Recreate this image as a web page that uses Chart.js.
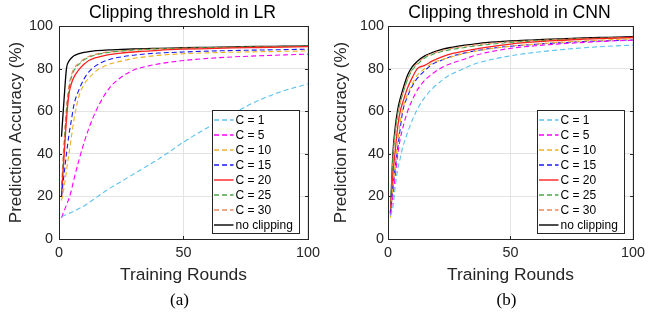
<!DOCTYPE html>
<html>
<head>
<meta charset="utf-8">
<script src="https://cdn.jsdelivr.net/npm/chart.js@4.4.1/dist/chart.umd.min.js"></script>
<style>
  html, body { margin: 0; padding: 0; background: #fff; }
  #wrap { position: relative; width: 650px; height: 320px; }
  canvas { position: absolute; top: 0; }
  #chart_lr { left: 0; }
  #chart_cnn { left: 325px; }
</style>
</head>
<body>
<div id="wrap">
  <canvas id="chart_lr" width="325" height="320"></canvas>
  <canvas id="chart_cnn" width="325" height="320"></canvas>
</div>
<script>
// ===== data =====
const series_labels = ["C = 1", "C = 5", "C = 10", "C = 15", "C = 20", "C = 25", "C = 30", "no clipping"];
const series_colors = ["#5cc3ee", "#ff00ff", "#edb120", "#1a1aff", "#ff2020", "#4aa64a", "#f0865a", "#000000"];
const series_dashed = [true, true, true, true, false, true, true, false];

const x_ticks = [0, 50, 100];
const y_ticks = [0, 20, 40, 60, 80, 100];

// LR
const rounds_lr = [1, 2, 3, 4, 5, 6, 8, 10, 12, 15, 20, 25, 30, 35, 40, 50, 60, 70, 80, 90, 100];
const lr_c1  = [10.5, 11, 11.5, 12, 12.5, 13, 14.3, 15.5, 17, 19.5, 23.5, 27, 30.5, 34, 37.5, 45.5, 52.5, 59, 65, 69.5, 72.8];
const lr_c5  = [10, 13, 16, 19, 23, 28, 37, 45, 52, 60.5, 70.5, 76, 79.3, 81, 82.2, 83.8, 84.8, 85.5, 86, 86.4, 86.8];
const lr_c10 = [18, 24, 32, 40, 48, 56, 67, 72.5, 75.5, 79, 82, 83.5, 84.8, 85.6, 86.2, 87, 87.4, 87.7, 87.9, 88.1, 88.3];
const lr_c15 = [20, 30, 40, 49, 56, 63, 70, 75, 78.5, 81.5, 84.2, 85.5, 86.3, 86.9, 87.3, 87.8, 88.2, 88.5, 88.7, 88.9, 89.1];
const lr_c20 = [20, 38, 56, 68, 73, 76, 79.5, 82, 83.8, 85.2, 86.6, 87.3, 87.8, 88.2, 88.6, 89.1, 89.4, 89.7, 89.9, 90.1, 90.3];
const lr_c25 = [22, 42, 60, 70, 76, 79, 82, 84, 85.3, 86.5, 87.6, 88.2, 88.7, 89, 89.2, 89.5, 89.8, 90, 90.2, 90.4, 90.6];
const lr_c30 = [25, 45, 62, 72, 77, 80, 82.5, 84.5, 85.7, 86.8, 87.8, 88.3, 88.8, 89.1, 89.3, 89.6, 89.8, 90, 90.2, 90.3, 90.4];
const lr_noclip = [48, 65, 80, 83.5, 85, 86, 87, 87.6, 88, 88.4, 88.8, 89, 89.2, 89.4, 89.5, 89.8, 90, 90.2, 90.4, 90.5, 90.6];

// CNN
const rounds_cnn = [1, 2, 3, 4, 5, 6, 8, 10, 12, 15, 18, 22, 26, 30, 35, 40, 50, 60, 70, 80, 90, 100];
const cnn_c1  = [11, 15, 25, 33, 38, 43, 50, 56, 61, 66.5, 70.5, 74.5, 77.5, 79.5, 82, 83.7, 86, 87.6, 88.8, 89.8, 90.5, 91];
const cnn_c5  = [11, 20, 30, 40, 47, 52, 60, 65.5, 70, 74.5, 77.5, 80.5, 82.5, 84, 86, 87.5, 89.5, 90.7, 91.6, 92.3, 92.9, 93.3];
const cnn_c10 = [10, 24, 36, 46, 55, 61, 68, 73, 77, 80, 82.5, 84.2, 85.5, 86.8, 88, 89, 90.5, 91.5, 92.3, 93, 93.5, 94];
const cnn_c15 = [12, 24, 34, 43, 52, 60, 67, 72, 75.5, 79, 82, 84, 85.8, 87, 88.2, 89.2, 90.5, 91.4, 92.1, 92.7, 93.1, 93.5];
const cnn_c20 = [12, 30, 42, 53, 60, 64, 71, 76, 80, 81.5, 83.5, 85.5, 87, 88, 89, 90, 91.5, 92.5, 93.2, 93.8, 94.2, 94.6];
const cnn_c25 = [13, 38, 51, 59, 64, 68, 75, 79.5, 82, 85, 86.5, 88, 89, 89.7, 90.5, 91.2, 92.3, 93, 93.5, 94, 94.3, 94.6];
const cnn_c30 = [11, 37, 50, 58, 64, 68, 75, 80, 82.5, 85.5, 87, 88.5, 89.5, 90.3, 91, 91.7, 92.6, 93.2, 93.7, 94.1, 94.4, 94.7];
const cnn_noclip = [12, 40, 53, 61, 66, 70, 77, 81, 83.5, 86, 87.5, 89, 90, 90.8, 91.5, 92.2, 93, 93.5, 94, 94.4, 94.7, 95];

const FONT = "'Liberation Sans', Arial, Helvetica, sans-serif";
const SERIF = "'Liberation Serif', 'Times New Roman', serif";
const AXIS_COLOR = "#262626";

// frame + inward tick marks (matlab style box)
const frame_plugin = {
  id: "frame_plugin",
  afterDatasetsDraw(chart) {
    const { ctx, chartArea: a, scales } = chart;
    ctx.save();
    ctx.strokeStyle = AXIS_COLOR;
    ctx.lineWidth = 1;
    ctx.beginPath();
    x_ticks.forEach(v => {
      const px = Math.round(scales.x.getPixelForValue(v)) + 0.5;
      ctx.moveTo(px, a.bottom); ctx.lineTo(px, a.bottom - 3);
      ctx.moveTo(px, a.top); ctx.lineTo(px, a.top + 3);
    });
    y_ticks.forEach(v => {
      const py = Math.round(scales.y.getPixelForValue(v)) + 0.5;
      ctx.moveTo(a.left, py); ctx.lineTo(a.left + 3, py);
      ctx.moveTo(a.right, py); ctx.lineTo(a.right - 3, py);
    });
    ctx.stroke();
    ctx.strokeRect(Math.round(a.left) + 0.5, Math.round(a.top) + 0.5,
      Math.round(a.right - a.left), Math.round(a.bottom - a.top));
    ctx.restore();
  }
};

// title above and (a)/(b) below, centred on the plot box
const plot_texts = {
  id: "plot_texts",
  afterDraw(chart, args, opts) {
    const { ctx, chartArea: a } = chart;
    const cx = (a.left + a.right) / 2;
    ctx.save();
    ctx.fillStyle = "#000";
    ctx.textAlign = "center";
    ctx.textBaseline = "middle";
    ctx.font = "17.6px " + FONT;
    ctx.fillText(opts.title, cx - 1, 13.5);
    ctx.font = "17px " + SERIF;
    ctx.fillText(opts.sub, cx - 4, 301);
    ctx.restore();
  }
};

// legend box in the lower right corner of the plot
const box_legend = {
  id: "box_legend",
  afterDraw(chart) {
    const { ctx, chartArea: a } = chart;
    const w = 87, h = 123;
    const x0 = Math.round(a.right - 9 - w) + 0.5;
    const y0 = Math.round(a.bottom - 6 - h) + 0.5;
    ctx.save();
    ctx.fillStyle = "#fff";
    ctx.fillRect(x0, y0, w, h);
    ctx.strokeStyle = AXIS_COLOR;
    ctx.lineWidth = 1;
    ctx.strokeRect(x0, y0, w, h);
    ctx.font = "12px " + FONT;
    ctx.textBaseline = "middle";
    chart.data.datasets.forEach((ds, i) => {
      const y = y0 + 9.5 + i * 15;
      ctx.strokeStyle = ds.borderColor;
      ctx.lineWidth = 1.4;
      ctx.setLineDash(ds.borderDash || []);
      ctx.beginPath();
      ctx.moveTo(x0 + 1.5, y);
      ctx.lineTo(x0 + 21, y);
      ctx.stroke();
      ctx.setLineDash([]);
      ctx.fillStyle = "#000";
      ctx.fillText(ds.label, x0 + 23, y + 0.5);
    });
    ctx.restore();
  }
};

function make_datasets(rounds, list) {
  return list.map((vals, i) => ({
    label: series_labels[i],
    data: rounds.map((r, k) => ({ x: r, y: vals[k] })),
    borderColor: series_colors[i],
    backgroundColor: series_colors[i],
    borderWidth: series_dashed[i] ? 1.1 : 1.3,
    borderDash: series_dashed[i] ? [5, 3] : [],
    pointRadius: 0,
    fill: false,
    cubicInterpolationMode: "monotone",
  }));
}

function make_config(title, sub, rounds, list, y_width, pad_right, tick_pad) {
  return {
    type: "line",
    data: { datasets: make_datasets(rounds, list) },
    options: {
      responsive: false,
      animation: false,
      layout: { padding: { left: 0, right: pad_right, top: 26, bottom: 28 } },
      plugins: {
        legend: { display: false },
        tooltip: { enabled: false },
        plot_texts: { title: title, sub: sub },
      },
      scales: {
        x: {
          type: "linear",
          min: 0,
          max: 100,
          afterBuildTicks(s) { s.ticks = x_ticks.map(v => ({ value: v })); },
          afterFit(s) { s.height = 53; },
          ticks: { color: AXIS_COLOR, font: { family: FONT, size: 14.4 }, padding: 5, maxRotation: 0 },
          grid: { color: "#e3e3e3", drawTicks: false },
          border: { display: false },
          title: {
            display: true,
            text: "Training Rounds",
            color: AXIS_COLOR,
            font: { family: FONT, size: 17.4 },
            padding: { top: 0, bottom: 6.6 },
          },
        },
        y: {
          min: 0,
          max: 100,
          afterBuildTicks(s) { s.ticks = y_ticks.map(v => ({ value: v })); },
          afterFit(s) { s.width = y_width; },
          ticks: { color: AXIS_COLOR, font: { family: FONT, size: 14.4 }, padding: tick_pad },
          grid: { color: "#e3e3e3", drawTicks: false },
          border: { display: false },
          title: {
            display: true,
            text: "Prediction Accuracy (%)",
            color: AXIS_COLOR,
            font: { family: FONT, size: 17 },
            padding: { top: 5.8, bottom: 0 },
          },
        },
      },
    },
    plugins: [frame_plugin, box_legend, plot_texts],
  };
}

const lr_chart = new Chart(
  document.getElementById("chart_lr"),
  make_config("Clipping threshold in LR", "(a)", rounds_lr,
    [lr_c1, lr_c5, lr_c10, lr_c15, lr_c20, lr_c25, lr_c30, lr_noclip], 59, 16.5, 6)
);

const cnn_chart = new Chart(
  document.getElementById("chart_cnn"),
  make_config("Clipping threshold in CNN", "(b)", rounds_cnn,
    [cnn_c1, cnn_c5, cnn_c10, cnn_c15, cnn_c20, cnn_c25, cnn_c30, cnn_noclip], 63, 13, 4)
);
</script>
</body>
</html>
